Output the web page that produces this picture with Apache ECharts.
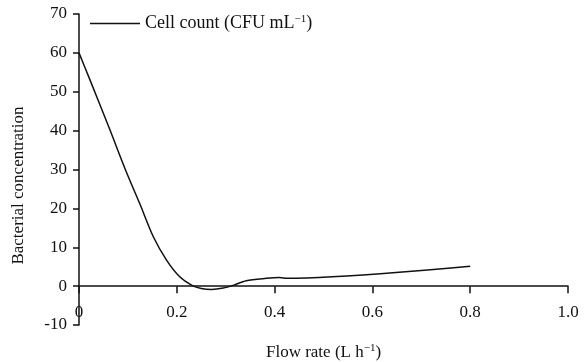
<!DOCTYPE html>
<html>
<head>
<meta charset="utf-8">
<script src="https://cdn.jsdelivr.net/npm/echarts@6/dist/echarts.min.js"></script>
<style>html,body{margin:0;padding:0;background:#fff}#c{width:587px;height:362px}</style>
</head>
<body>
<div id="c"></div>
<script>
var flowRate = [0, 0.021, 0.062, 0.096, 0.124, 0.152, 0.179, 0.206, 0.231, 0.25, 0.271, 0.295, 0.315, 0.342, 0.383, 0.41, 0.425, 0.8];
var cellCount = [60, 53.5, 40.6, 29.6, 21.3, 12.7, 6.7, 2.4, 0.2, -0.6, -0.85, -0.5, 0.2, 1.4, 2.0, 2.2, 2.0, 5.1];
var xTicks = [0, 0.2, 0.4, 0.6, 0.8, 1.0];
var yTicks = [-10, 0, 10, 20, 30, 40, 50, 60, 70];
var seriesName = 'Cell count';

var font = 'Liberation Serif, Times New Roman, serif';
var fs = 17;
var chart = echarts.init(document.getElementById('c'));
var pts = flowRate.map(function (x, i) { return [x, cellCount[i]]; });
chart.setOption({
  animation: false,
  backgroundColor: '#fff',
  grid: { left: 79, right: 19, top: 14, bottom: 37, containLabel: false, outerBoundsMode: 'none' },
  legend: {
    left: 85, top: 9,
    itemWidth: 50, itemHeight: 1.5,
    itemGap: 0,
    data: [{ name: seriesName, icon: 'rect' }],
    itemStyle: { color: '#111' },
    formatter: function () { return '{a|Cell count (CFU mL}{s|−1}{a|)}'; },
    textStyle: {
      color: '#111', fontFamily: font, fontSize: 18,
      rich: {
        a: { fontFamily: font, fontSize: 18, color: '#111', padding: [0, 0, 0, 0] },
        s: { fontFamily: font, fontSize: 11, color: '#111', verticalAlign: 'top', padding: [0, 0, 8, 0] }
      }
    }
  },
  xAxis: {
    type: 'value', min: xTicks[0], max: xTicks[xTicks.length - 1], interval: 0.2,
    axisLine: { onZero: true, lineStyle: { color: '#111', width: 1.5 } },
    axisTick: { inside: false, length: 7, lineStyle: { color: '#111', width: 1.5 } },
    axisLabel: {
      margin: -21, color: '#111', fontFamily: font, fontSize: fs,
      formatter: function (v) { return v === 0 ? '0' : v.toFixed(1); }
    },
    splitLine: { show: false },
    name: '{a|Flow rate (L h}{s|−1}{a|)}',
    nameLocation: 'middle', nameGap: 18,
    nameTextStyle: {
      color: '#111', fontFamily: font, fontSize: fs,
      rich: {
        a: { fontFamily: font, fontSize: fs, color: '#111' },
        s: { fontFamily: font, fontSize: 11, color: '#111', verticalAlign: 'top', padding: [0, 0, 8, 0] }
      }
    }
  },
  yAxis: {
    type: 'value', min: yTicks[0], max: yTicks[yTicks.length - 1], interval: 10,
    axisLine: { show: true, onZero: false, lineStyle: { color: '#111', width: 1.5 } },
    axisTick: { show: true, inside: false, length: 6, lineStyle: { color: '#111', width: 1.5 } },
    axisLabel: { margin: 12, color: '#111', fontFamily: font, fontSize: fs },
    splitLine: { show: false },
    name: 'Bacterial concentration',
    nameLocation: 'middle', nameGap: 52,
    nameTextStyle: { color: '#111', fontFamily: font, fontSize: fs, padding: [0, 32, 0, 0] }
  },
  series: [{
    name: seriesName,
    type: 'line',
    data: pts,
    smooth: 0.3,
    symbol: 'none',
    lineStyle: { color: '#111', width: 1.5 },
    itemStyle: { color: '#111' }
  }]
});
</script>
</body>
</html>
